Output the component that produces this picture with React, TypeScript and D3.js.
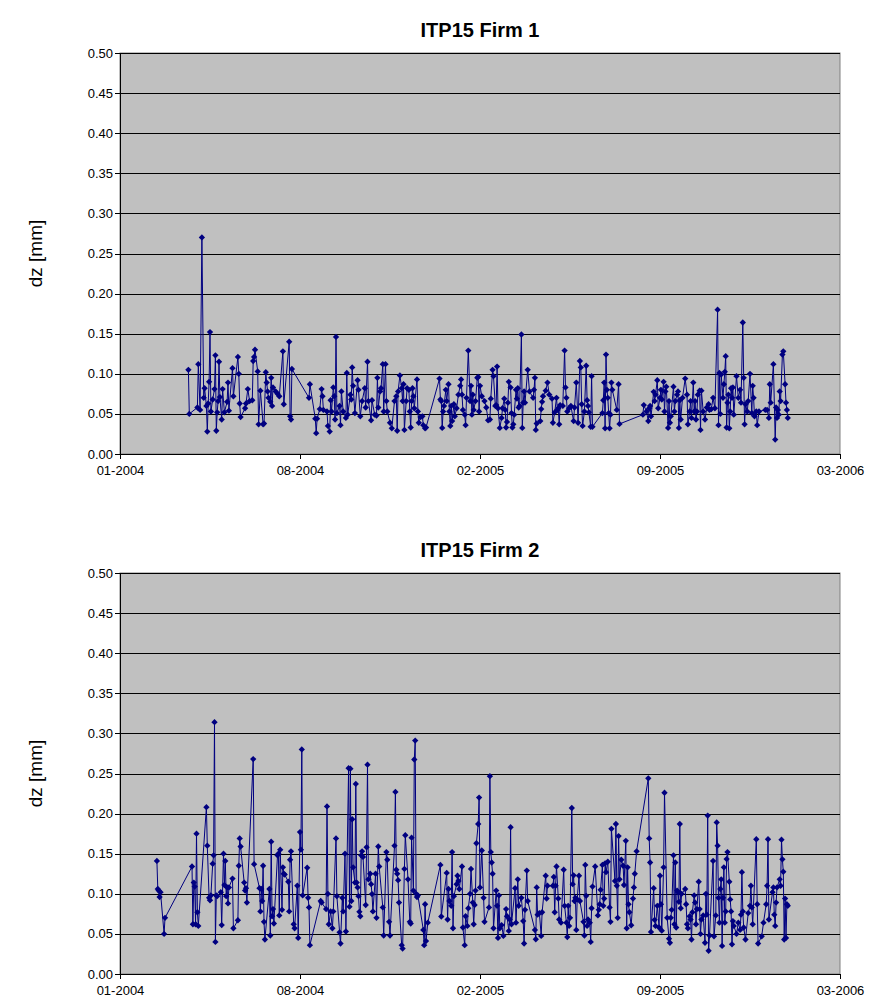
import React from "react";
import * as d3 from "d3";

// Measurement dates are Excel day serials (1 = 1900-01-01), values are dz in mm.
const firm1Serials = [
  38076, 38077, 38086, 38087, 38089, 38091, 38093, 38094, 38096, 38097, 38098, 38099, 38100, 38101, 38103, 38105,
  38106, 38107, 38108, 38109, 38110, 38111, 38113, 38114, 38116, 38119, 38120, 38121, 38125, 38126, 38131, 38132,
  38133, 38134, 38139, 38140, 38142, 38144, 38147, 38148, 38149, 38150, 38153, 38154, 38156, 38159, 38160, 38162,
  38163, 38164, 38165, 38167, 38168, 38169, 38170, 38173, 38175, 38177, 38181, 38182, 38188, 38189, 38190, 38191,
  38210, 38211, 38217, 38218, 38219, 38222, 38224, 38225, 38226, 38230, 38231, 38233, 38234, 38235, 38237, 38238,
  38239, 38240, 38241, 38244, 38245, 38246, 38248, 38251, 38252, 38253, 38256, 38257, 38258, 38259, 38261, 38264,
  38265, 38267, 38269, 38272, 38273, 38275, 38276, 38279, 38280, 38283, 38285, 38286, 38287, 38289, 38290, 38292,
  38293, 38295, 38296, 38297, 38300, 38302, 38305, 38307, 38308, 38309, 38311, 38313, 38314, 38315, 38316, 38318,
  38319, 38321, 38322, 38323, 38324, 38325, 38326, 38327, 38330, 38331, 38332, 38334, 38336, 38337, 38339, 38340,
  38355, 38356, 38357, 38358, 38359, 38360, 38362, 38363, 38365, 38366, 38367, 38368, 38369, 38371, 38372, 38374,
  38376, 38378, 38379, 38380, 38381, 38383, 38384, 38385, 38387, 38389, 38390, 38391, 38392, 38393, 38395, 38397,
  38398, 38399, 38400, 38402, 38405, 38407, 38409, 38411, 38412, 38414, 38415, 38417, 38418, 38419, 38420, 38422,
  38424, 38425, 38427, 38428, 38429, 38430, 38431, 38432, 38434, 38435, 38436, 38437, 38438, 38440, 38441, 38442,
  38443, 38444, 38446, 38447, 38448, 38449, 38450, 38453, 38455, 38459, 38460, 38461, 38462, 38463, 38467, 38468,
  38469, 38470, 38473, 38475, 38477, 38480, 38481, 38483, 38485, 38486, 38487, 38488, 38489, 38492, 38494, 38495,
  38496, 38497, 38499, 38501, 38504, 38505, 38507, 38509, 38511, 38512, 38513, 38514, 38516, 38518, 38519, 38520,
  38521, 38523, 38524, 38525, 38536, 38537, 38538, 38539, 38540, 38541, 38542, 38543, 38544, 38545, 38546, 38547,
  38552, 38554, 38555, 38581, 38582, 38585, 38587, 38588, 38589, 38590, 38593, 38594, 38595, 38597, 38598, 38600,
  38601, 38602, 38604, 38605, 38606, 38607, 38609, 38610, 38611, 38612, 38615, 38616, 38617, 38619, 38620, 38621,
  38622, 38623, 38625, 38628, 38630, 38631, 38633, 38634, 38635, 38637, 38638, 38639, 38640, 38641, 38642, 38644,
  38645, 38646, 38648, 38650, 38652, 38654, 38655, 38657, 38659, 38661, 38664, 38665, 38666, 38667, 38668, 38670,
  38671, 38672, 38673, 38674, 38675, 38676, 38677, 38678, 38679, 38680, 38681, 38682, 38685, 38687, 38689, 38690,
  38692, 38693, 38694, 38695, 38697, 38698, 38700, 38702, 38703, 38704, 38705, 38707, 38708, 38710, 38717, 38719,
  38721, 38722, 38723, 38726, 38728, 38729, 38730, 38731, 38732, 38733, 38734, 38736, 38737, 38739, 38740, 38741,
  38742,
];

const firm1Values = [
  0.105, 0.05, 0.058, 0.112, 0.055, 0.27, 0.07, 0.082, 0.06, 0.028, 0.063, 0.09, 0.152, 0.053, 0.068, 0.081,
  0.123, 0.029, 0.052, 0.066, 0.115, 0.071, 0.043, 0.081, 0.052, 0.065, 0.089, 0.054, 0.107, 0.072, 0.121, 0.1,
  0.063, 0.046, 0.057, 0.063, 0.081, 0.066, 0.067, 0.116, 0.121, 0.13, 0.103, 0.037, 0.079, 0.037, 0.038, 0.102,
  0.089, 0.078, 0.07, 0.065, 0.095, 0.06, 0.083, 0.078, 0.075, 0.072, 0.128, 0.062, 0.14, 0.047, 0.043, 0.106,
  0.07, 0.087, 0.044, 0.026, 0.044, 0.056, 0.081, 0.072, 0.055, 0.053, 0.035, 0.028, 0.067, 0.053, 0.083, 0.072,
  0.043, 0.146, 0.051, 0.06, 0.036, 0.078, 0.053, 0.045, 0.101, 0.049, 0.074, 0.068, 0.108, 0.085, 0.051, 0.092,
  0.08, 0.047, 0.066, 0.082, 0.058, 0.115, 0.066, 0.042, 0.067, 0.049, 0.048, 0.095, 0.058, 0.078, 0.082, 0.112,
  0.053, 0.112, 0.066, 0.053, 0.039, 0.032, 0.066, 0.072, 0.029, 0.078, 0.098, 0.082, 0.066, 0.087, 0.03, 0.066,
  0.082, 0.08, 0.053, 0.033, 0.066, 0.082, 0.072, 0.057, 0.093, 0.053, 0.039, 0.046, 0.047, 0.036, 0.032, 0.033,
  0.094, 0.068, 0.066, 0.0325, 0.053, 0.06, 0.08, 0.066, 0.087, 0.053, 0.035, 0.06, 0.041, 0.062, 0.047, 0.057,
  0.074, 0.085, 0.093, 0.074, 0.055, 0.049, 0.036, 0.07, 0.129, 0.066, 0.085, 0.049, 0.074, 0.055, 0.066, 0.095,
  0.096, 0.053, 0.085, 0.072, 0.066, 0.058, 0.042, 0.043, 0.069, 0.105, 0.097, 0.06, 0.061, 0.109, 0.057, 0.0325,
  0.045, 0.057, 0.069, 0.055, 0.033, 0.04, 0.064, 0.09, 0.083, 0.051, 0.033, 0.037, 0.049, 0.08, 0.069, 0.082,
  0.058, 0.06, 0.149, 0.0325, 0.064, 0.078, 0.064, 0.105, 0.078, 0.07, 0.08, 0.095, 0.03, 0.038, 0.041, 0.056,
  0.065, 0.072, 0.079, 0.089, 0.074, 0.069, 0.039, 0.052, 0.07, 0.055, 0.057, 0.037, 0.061, 0.06, 0.129, 0.083,
  0.07, 0.053, 0.057, 0.06, 0.041, 0.058, 0.089, 0.039, 0.116, 0.108, 0.062, 0.035, 0.053, 0.11, 0.067, 0.06,
  0.052, 0.034, 0.097, 0.034, 0.051, 0.067, 0.089, 0.032, 0.124, 0.08, 0.07, 0.051, 0.032, 0.049, 0.089, 0.08,
  0.055, 0.087, 0.0375, 0.049, 0.061, 0.053, 0.041, 0.057, 0.06, 0.047, 0.0775, 0.066, 0.074, 0.092, 0.057, 0.07,
  0.08, 0.068, 0.09, 0.053, 0.078, 0.084, 0.0325, 0.066, 0.039, 0.047, 0.084, 0.053, 0.066, 0.074, 0.078, 0.0325,
  0.067, 0.043, 0.07, 0.094, 0.074, 0.037, 0.053, 0.066, 0.045, 0.089, 0.053, 0.066, 0.043, 0.053, 0.074, 0.079,
  0.03, 0.079, 0.053, 0.043, 0.058, 0.062, 0.055, 0.056, 0.07, 0.057, 0.18, 0.036, 0.101, 0.05, 0.099, 0.07,
  0.087, 0.1025, 0.122, 0.033, 0.064, 0.074, 0.032, 0.053, 0.082, 0.07, 0.083, 0.049, 0.097, 0.07, 0.08, 0.064,
  0.164, 0.095, 0.037, 0.062, 0.053, 0.066, 0.1, 0.051, 0.085, 0.07, 0.047, 0.053, 0.036, 0.053, 0.055, 0.055,
  0.045, 0.087, 0.064, 0.112, 0.018, 0.058, 0.045, 0.055, 0.049, 0.078, 0.066, 0.124, 0.128, 0.087, 0.064, 0.055,
  0.045,
];

const firm2Serials = [
  38041, 38042, 38043, 38044, 38045, 38049, 38050, 38080, 38081, 38082, 38083, 38084, 38085, 38086, 38087, 38096,
  38097, 38099, 38100, 38101, 38103, 38104, 38105, 38106, 38107, 38108, 38112, 38113, 38115, 38116, 38117, 38118,
  38119, 38120, 38121, 38125, 38126, 38131, 38132, 38133, 38134, 38138, 38139, 38140, 38141, 38148, 38149, 38155,
  38156, 38157, 38158, 38159, 38160, 38161, 38166, 38167, 38168, 38169, 38170, 38171, 38175, 38176, 38177, 38178,
  38180, 38181, 38182, 38183, 38187, 38188, 38189, 38190, 38193, 38194, 38197, 38198, 38200, 38201, 38202, 38203,
  38208, 38209, 38210, 38211, 38223, 38224, 38229, 38230, 38231, 38232, 38234, 38236, 38237, 38240, 38241, 38244,
  38245, 38247, 38248, 38250, 38251, 38254, 38255, 38256, 38257, 38258, 38259, 38261, 38262, 38263, 38264, 38265,
  38266, 38267, 38268, 38269, 38270, 38273, 38274, 38275, 38276, 38278, 38279, 38280, 38281, 38284, 38285, 38287,
  38288, 38292, 38293, 38296, 38297, 38299, 38300, 38305, 38306, 38307, 38308, 38309, 38310, 38313, 38314, 38316,
  38317, 38320, 38322, 38323, 38324, 38326, 38327, 38328, 38329, 38330, 38331, 38337, 38338, 38339, 38340, 38342,
  38356, 38357, 38363, 38364, 38365, 38366, 38368, 38369, 38370, 38371, 38374, 38375, 38376, 38377, 38380, 38381,
  38383, 38384, 38386, 38387, 38389, 38390, 38392, 38393, 38394, 38395, 38396, 38398, 38399, 38400, 38402, 38404,
  38405, 38410, 38411, 38412, 38413, 38414, 38415, 38418, 38419, 38420, 38421, 38422, 38424, 38426, 38429, 38430,
  38432, 38433, 38434, 38435, 38439, 38440, 38442, 38443, 38446, 38448, 38449, 38450, 38452, 38453, 38461, 38462,
  38463, 38464, 38466, 38468, 38469, 38473, 38474, 38475, 38481, 38482, 38483, 38484, 38485, 38487, 38488, 38490,
  38493, 38494, 38496, 38497, 38498, 38499, 38500, 38502, 38503, 38504, 38505, 38506, 38507, 38508, 38510, 38511,
  38515, 38516, 38517, 38518, 38519, 38520, 38522, 38523, 38524, 38525, 38528, 38531, 38532, 38533, 38534, 38536,
  38537, 38538, 38539, 38540, 38542, 38544, 38545, 38546, 38550, 38551, 38552, 38553, 38554, 38555, 38557, 38559,
  38560, 38562, 38563, 38564, 38565, 38566, 38568, 38570, 38571, 38572, 38574, 38587, 38588, 38589, 38590, 38593,
  38594, 38595, 38597, 38599, 38600, 38601, 38602, 38604, 38605, 38608, 38610, 38611, 38612, 38613, 38615, 38616,
  38617, 38618, 38619, 38620, 38621, 38622, 38623, 38624, 38628, 38629, 38630, 38631, 38633, 38634, 38635, 38636,
  38638, 38639, 38640, 38641, 38643, 38644, 38645, 38646, 38648, 38650, 38651, 38652, 38653, 38654, 38655, 38659,
  38660, 38662, 38663, 38664, 38665, 38666, 38667, 38668, 38669, 38670, 38671, 38672, 38673, 38674, 38675, 38677,
  38678, 38679, 38680, 38681, 38682, 38685, 38687, 38689, 38690, 38691, 38692, 38693, 38695, 38698, 38700, 38701,
  38702, 38703, 38707, 38708, 38709, 38713, 38715, 38718, 38719, 38720, 38721, 38725, 38726, 38727, 38728, 38729,
  38730, 38733, 38734, 38735, 38736, 38737, 38738, 38739, 38740, 38741, 38742,
];

const firm2Values = [
  0.141, 0.106, 0.104, 0.096, 0.102, 0.05, 0.07, 0.134, 0.062, 0.114, 0.109, 0.062, 0.175, 0.077, 0.06, 0.208,
  0.16, 0.095, 0.092, 0.098, 0.1375, 0.148, 0.314, 0.04, 0.098, 0.097, 0.102, 0.061, 0.15, 0.111, 0.141, 0.097,
  0.108, 0.088, 0.108, 0.119, 0.057, 0.067, 0.135, 0.169, 0.159, 0.114, 0.104, 0.107, 0.089, 0.268, 0.137, 0.107,
  0.078, 0.106, 0.091, 0.135, 0.065, 0.043, 0.106, 0.048, 0.165, 0.072, 0.081, 0.063, 0.148, 0.15, 0.073, 0.155,
  0.08, 0.133, 0.125, 0.124, 0.115, 0.078, 0.1425, 0.153, 0.062, 0.057, 0.11, 0.045, 0.177, 0.155, 0.28, 0.098,
  0.1325, 0.095, 0.083, 0.036, 0.091, 0.089, 0.081, 0.209, 0.1, 0.062, 0.078, 0.057, 0.078, 0.169, 0.097, 0.052,
  0.038, 0.095, 0.078, 0.15, 0.053, 0.2567, 0.084, 0.256, 0.091, 0.193, 0.133, 0.114, 0.237, 0.114, 0.108, 0.097,
  0.0775, 0.072, 0.148, 0.153, 0.146, 0.086, 0.158, 0.261, 0.118, 0.125, 0.112, 0.0996, 0.078, 0.125, 0.07, 0.159,
  0.134, 0.083, 0.048, 0.152, 0.1425, 0.065, 0.048, 0.16, 0.227, 0.13, 0.125, 0.117, 0.089, 0.036, 0.0317, 0.131,
  0.173, 0.118, 0.065, 0.063, 0.17, 0.104, 0.2675, 0.291, 0.1, 0.096, 0.098, 0.055, 0.036, 0.087, 0.041, 0.064,
  0.136, 0.0717, 0.126, 0.068, 0.106, 0.091, 0.085, 0.152, 0.057, 0.097, 0.112, 0.1225, 0.116, 0.106, 0.134, 0.058,
  0.036, 0.072, 0.06, 0.082, 0.1, 0.131, 0.089, 0.062, 0.086, 0.104, 0.163, 0.187, 0.22, 0.108, 0.154, 0.095,
  0.065, 0.083, 0.2467, 0.152, 0.139, 0.125, 0.057, 0.104, 0.085, 0.045, 0.098, 0.057, 0.061, 0.0475, 0.081, 0.072,
  0.0537, 0.068, 0.183, 0.062, 0.107, 0.064, 0.118, 0.085, 0.095, 0.066, 0.038, 0.08, 0.129, 0.091, 0.055, 0.0433,
  0.108, 0.074, 0.076, 0.0475, 0.077, 0.1225, 0.094, 0.11, 0.11, 0.121, 0.077, 0.11, 0.134, 0.094, 0.068, 0.064,
  0.13, 0.085, 0.064, 0.046, 0.085, 0.06, 0.07, 0.207, 0.112, 0.123, 0.091, 0.095, 0.055, 0.093, 0.1225, 0.091,
  0.065, 0.048, 0.136, 0.0975, 0.06, 0.068, 0.064, 0.04, 0.082, 0.109, 0.134, 0.073, 0.08, 0.087, 0.105, 0.136,
  0.085, 0.094, 0.138, 0.127, 0.14, 0.083, 0.065, 0.181, 0.116, 0.187, 0.11, 0.07, 0.172, 0.118, 0.1425, 0.135,
  0.111, 0.166, 0.057, 0.133, 0.087, 0.077, 0.0608, 0.094, 0.108, 0.125, 0.153, 0.244, 0.169, 0.139, 0.0525, 0.107,
  0.0675, 0.06, 0.085, 0.058, 0.1225, 0.087, 0.054, 0.133, 0.226, 0.07, 0.044, 0.039, 0.07, 0.08, 0.148, 0.062,
  0.139, 0.058, 0.104, 0.102, 0.09, 0.187, 0.082, 0.1, 0.106, 0.087, 0.062, 0.057, 0.072, 0.068, 0.043, 0.077,
  0.098, 0.089, 0.062, 0.081, 0.115, 0.081, 0.05, 0.068, 0.073, 0.039, 0.1, 0.074, 0.1975, 0.029, 0.048, 0.141,
  0.047, 0.073, 0.189, 0.16, 0.095, 0.064, 0.106, 0.118, 0.035, 0.095, 0.133, 0.064, 0.078, 0.1433, 0.152, 0.115,
  0.093, 0.078, 0.037, 0.066, 0.06, 0.05, 0.064, 0.055, 0.074, 0.127, 0.078, 0.058, 0.043, 0.076, 0.085, 0.11,
  0.083, 0.062, 0.168, 0.087, 0.038, 0.047, 0.064, 0.087, 0.11, 0.168, 0.068, 0.102, 0.108, 0.074, 0.06, 0.089,
  0.108, 0.118, 0.11, 0.1675, 0.143, 0.1275, 0.043, 0.094, 0.045, 0.087, 0.085,
];

// Date axis: 38000 (14 Jan 2004) to 38800, a label every 200 days
const xDomainSerials = [38000, 38800];
const xTickSerials = [38000, 38200, 38400, 38600, 38800];
const yTicks = [0, 0.05, 0.1, 0.15, 0.2, 0.25, 0.3, 0.35, 0.4, 0.45, 0.5];

const panels = [
  { title: "ITP15 Firm 1", serials: firm1Serials, values: firm1Values },
  { title: "ITP15 Firm 2", serials: firm2Serials, values: firm2Values },
];

const EPOCH = Date.UTC(1899, 11, 30);
const serialToDate = (s: number) => new Date(EPOCH + s * 86400000);

const FONT = "Arial, 'Liberation Sans', sans-serif";
const LINE = "#000080";
const PLOT_BG = "#C0C0C0";

const W = 875;
const H = 1008;
const plotLeft = 120;
const plotRight = 840;
const panelTops = [53, 573];
const plotHeight = 401;

const fmtDate = d3.utcFormat("%m-%Y");
const fmtVal = d3.format(".2f");

function Panel({ title, serials, values, top }: { title: string; serials: number[]; values: number[]; top: number }) {
  const x = d3
    .scaleUtc()
    .domain(xDomainSerials.map(serialToDate))
    .range([plotLeft, plotRight]);
  const y = d3.scaleLinear().domain([0, 0.5]).range([top + plotHeight, top]);
  const pts = serials.map((s, i) => [x(serialToDate(s)), y(values[i])] as [number, number]);
  const line = d3.line()(pts) || "";
  const marker = d3.symbol(d3.symbolSquare, 20)() || "";
  const bottom = top + plotHeight;
  const midY = (top + bottom) / 2;

  return (
    <g>
      <text x={(plotLeft + plotRight) / 2} y={top - 16} textAnchor="middle" fontFamily={FONT} fontWeight="bold" fontSize={20}>
        {title}
      </text>
      <rect x={plotLeft} y={top} width={plotRight - plotLeft} height={plotHeight} fill={PLOT_BG} stroke="#808080" strokeWidth={1} />
      {yTicks.map((t) => (
        <line key={"g" + t} x1={plotLeft} x2={plotRight} y1={Math.round(y(t)) + 0.5} y2={Math.round(y(t)) + 0.5} stroke="#000" strokeWidth={1} />
      ))}
      {/* axes */}
      <line x1={plotLeft + 0.5} x2={plotLeft + 0.5} y1={top} y2={bottom + 0.5} stroke="#000" />
      <line x1={plotLeft} x2={plotRight} y1={Math.round(bottom) + 0.5} y2={Math.round(bottom) + 0.5} stroke="#000" />
      {yTicks.map((t) => (
        <g key={"y" + t}>
          <line x1={plotLeft - 5} x2={plotLeft} y1={Math.round(y(t)) + 0.5} y2={Math.round(y(t)) + 0.5} stroke="#000" />
          <text x={plotLeft - 7} y={y(t)} dy="0.35em" textAnchor="end" fontFamily={FONT} fontSize={13}>
            {fmtVal(t)}
          </text>
        </g>
      ))}
      {xTickSerials.map((s) => {
        const xx = Math.round(x(serialToDate(s))) + 0.5;
        return (
          <g key={"x" + s}>
            <line x1={xx} x2={xx} y1={bottom} y2={bottom + 5} stroke="#000" />
            <text x={xx} y={bottom + 21} textAnchor="middle" fontFamily={FONT} fontSize={13}>
              {fmtDate(serialToDate(s))}
            </text>
          </g>
        );
      })}
      <text
        transform={`translate(${42},${midY}) rotate(-90)`}
        textAnchor="middle"
        fontFamily={FONT}
        fontSize={19}
      >
        dz [mm]
      </text>
      <path d={line} fill="none" stroke={LINE} strokeWidth={1} strokeLinejoin="round" />
      {pts.map(([px, py], i) => (
        <path key={i} d={marker} transform={`translate(${px},${py}) rotate(45)`} fill={LINE} />
      ))}
    </g>
  );
}

export default function App() {
  return (
    <svg width={W} height={H} style={{ position: "absolute", left: 0, top: 0, background: "#fff" }}>
      <rect width={W} height={H} fill="#fff" />
      {panels.map((p, i) => (
        <Panel key={p.title} title={p.title} serials={p.serials} values={p.values} top={panelTops[i]} />
      ))}
    </svg>
  );
}
